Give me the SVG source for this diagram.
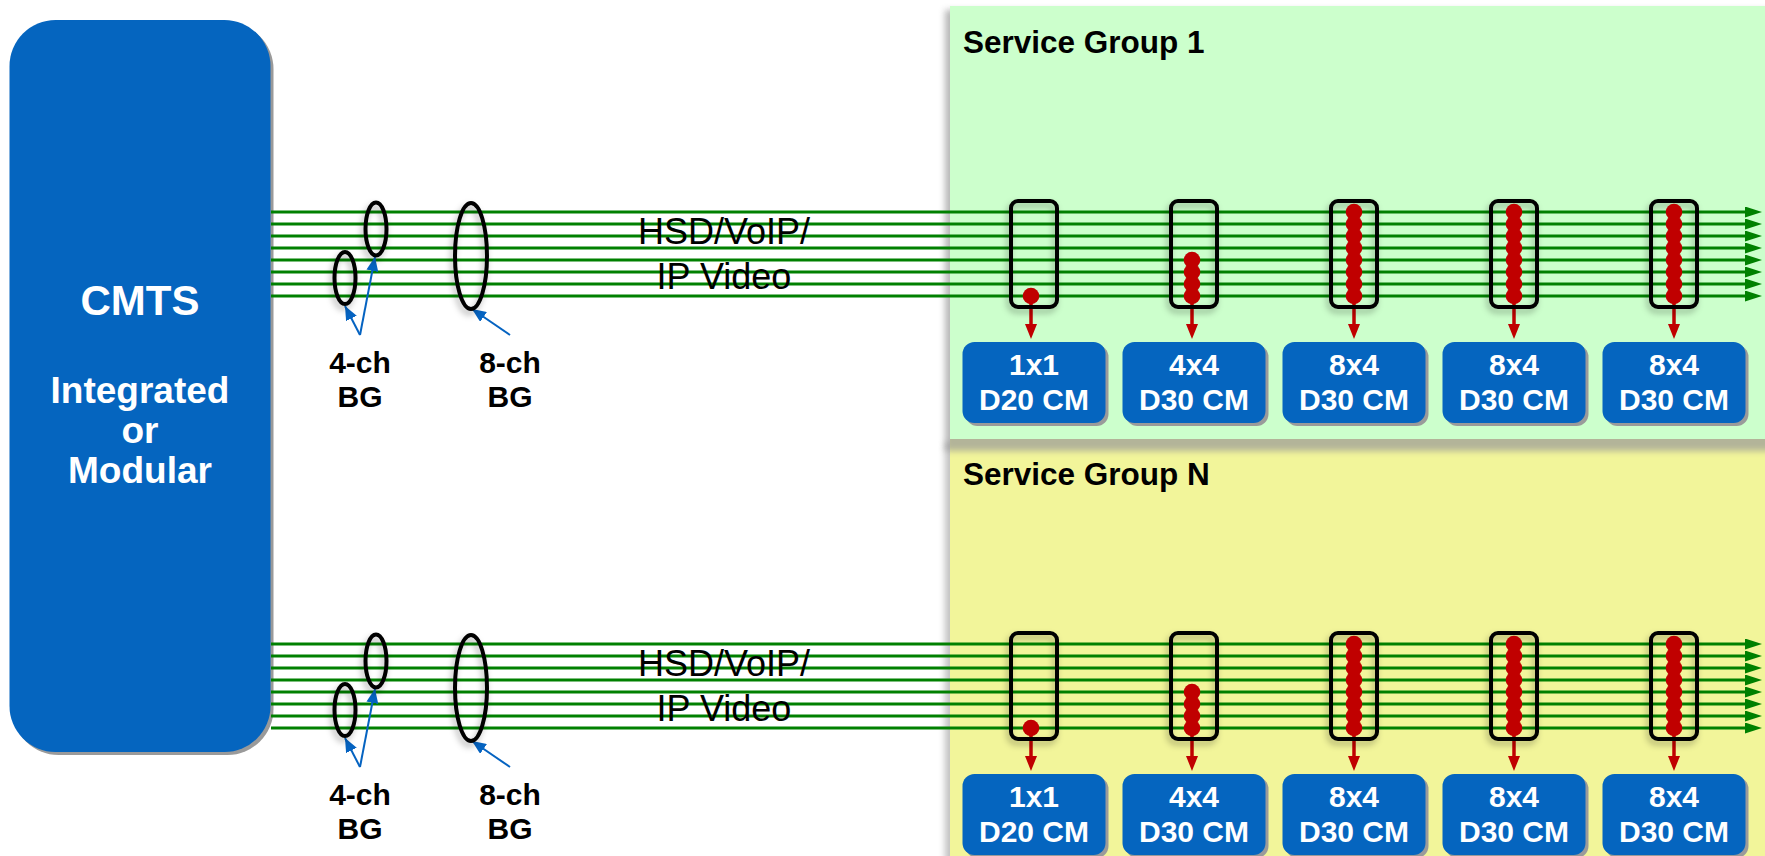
<svg xmlns="http://www.w3.org/2000/svg" width="1765" height="856" viewBox="0 0 1765 856">
<defs>
<style>
.bold{font-family:"Liberation Sans",Arial,sans-serif;font-weight:bold}
.reg{font-family:"Liberation Sans",Arial,sans-serif}
.wt{fill:#ffffff}
.bk{fill:#000000}
.ch{stroke:#008000;stroke-width:3;fill:none;marker-end:url(#ga)}
.ell{fill:none;stroke:#000;stroke-width:4;filter:url(#sh)}
.rx{fill:none;stroke:#000;stroke-width:4;filter:url(#sh)}
.dot{fill:#C00000}
.rarr{stroke:#C00000;stroke-width:3.5;marker-end:url(#ra)}
.barr{stroke:#0563C1;stroke-width:2;fill:none;marker-end:url(#ba)}
.cm{fill:#0565BF}
.cmsh{fill:#9a9a9a}
</style>
<marker id="ga" markerUnits="userSpaceOnUse" markerWidth="17" markerHeight="11" viewBox="0 0 17 11" refX="0" refY="5.5" orient="auto"><path d="M0,0 L17,5.5 L0,11 z" fill="#008000"/></marker>
<marker id="ra" markerUnits="userSpaceOnUse" markerWidth="15" markerHeight="12" viewBox="0 0 15 12" refX="0" refY="6" orient="auto"><path d="M0,0 L15,6 L0,12 z" fill="#C00000"/></marker>
<marker id="ba" markerUnits="userSpaceOnUse" markerWidth="14" markerHeight="12" viewBox="0 0 14 12" refX="14" refY="6" orient="auto"><path d="M0,0 L14,6 L0,12 z" fill="#0563C1"/></marker>
<filter id="sh" x="-50%" y="-50%" width="200%" height="200%"><feDropShadow dx="-2" dy="4" stdDeviation="3" flood-color="#000" flood-opacity="0.3"/></filter>
<filter id="blur" x="-10%" y="-10%" width="120%" height="120%"><feGaussianBlur stdDeviation="3"/></filter>
</defs>
<rect width="1765" height="856" fill="#ffffff"/>

<g id="service-group-n">
<rect x="945" y="442" width="830" height="420" fill="#999" opacity="0.6" filter="url(#blur)"/>
<rect x="950" y="438" width="820" height="420" fill="#F2F59A"/>
<text class="bold bk" x="963" y="485" font-size="31.5">Service Group N</text>
</g>
<g id="service-group-1">
<rect x="945" y="10" width="830" height="441" fill="#999" opacity="0.7" filter="url(#blur)"/>
<rect x="950" y="6" width="820" height="433" fill="#CCFFCC"/>
<text class="bold bk" x="963" y="53" font-size="31.5">Service Group 1</text>
</g>

<g id="cmts">
<rect x="12.5" y="23" width="261" height="732" rx="46" fill="#9a9a9a"/>
<rect x="9.5" y="20" width="261" height="732" rx="46" fill="#0565BF"/>
<text class="bold wt" x="140" y="315" font-size="42" text-anchor="middle">CMTS</text>
<text class="bold wt" x="140" y="403" font-size="37" text-anchor="middle">Integrated</text>
<text class="bold wt" x="140" y="443" font-size="37" text-anchor="middle">or</text>
<text class="bold wt" x="140" y="483" font-size="37" text-anchor="middle">Modular</text>
</g>

<g id="connectors">
<g id="channels-sg1">
<line class="ch" x1="271" y1="212" x2="1745" y2="212"/>
<line class="ch" x1="271" y1="224" x2="1745" y2="224"/>
<line class="ch" x1="271" y1="236" x2="1745" y2="236"/>
<line class="ch" x1="271" y1="248" x2="1745" y2="248"/>
<line class="ch" x1="271" y1="260" x2="1745" y2="260"/>
<line class="ch" x1="271" y1="272" x2="1745" y2="272"/>
<line class="ch" x1="271" y1="284" x2="1745" y2="284"/>
<line class="ch" x1="271" y1="296" x2="1745" y2="296"/>
</g>
<g id="channels-sgn">
<line class="ch" x1="271" y1="644" x2="1745" y2="644"/>
<line class="ch" x1="271" y1="656" x2="1745" y2="656"/>
<line class="ch" x1="271" y1="668" x2="1745" y2="668"/>
<line class="ch" x1="271" y1="680" x2="1745" y2="680"/>
<line class="ch" x1="271" y1="692" x2="1745" y2="692"/>
<line class="ch" x1="271" y1="704" x2="1745" y2="704"/>
<line class="ch" x1="271" y1="716" x2="1745" y2="716"/>
<line class="ch" x1="271" y1="728" x2="1745" y2="728"/>
</g>
<g id="bg-pointers">
<line class="barr" x1="360" y1="335" x2="345" y2="306"/>
<line class="barr" x1="360" y1="335" x2="375" y2="257"/>
<line class="barr" x1="510" y1="335" x2="472" y2="309"/>
<line class="barr" x1="360" y1="767" x2="345" y2="738"/>
<line class="barr" x1="360" y1="767" x2="375" y2="689"/>
<line class="barr" x1="510" y1="767" x2="472" y2="741"/>
</g>
<g id="cm-feeds">
<line class="rarr" x1="1031" y1="296" x2="1031" y2="324"/>
<line class="rarr" x1="1192" y1="296" x2="1192" y2="324"/>
<line class="rarr" x1="1354" y1="296" x2="1354" y2="324"/>
<line class="rarr" x1="1514" y1="296" x2="1514" y2="324"/>
<line class="rarr" x1="1674" y1="296" x2="1674" y2="324"/>
<line class="rarr" x1="1031" y1="728" x2="1031" y2="756"/>
<line class="rarr" x1="1192" y1="728" x2="1192" y2="756"/>
<line class="rarr" x1="1354" y1="728" x2="1354" y2="756"/>
<line class="rarr" x1="1514" y1="728" x2="1514" y2="756"/>
<line class="rarr" x1="1674" y1="728" x2="1674" y2="756"/>
</g>
</g>

<g id="bonding-groups-sg1">
<ellipse class="ell" cx="345" cy="278" rx="10.5" ry="26"/>
<ellipse class="ell" cx="376" cy="229" rx="10.5" ry="26.5"/>
<ellipse class="ell" cx="471" cy="256" rx="16" ry="53"/>
<text class="bold bk" x="360" y="373" font-size="30" text-anchor="middle">4-ch</text>
<text class="bold bk" x="360" y="407" font-size="30" text-anchor="middle">BG</text>
<text class="bold bk" x="510" y="373" font-size="30" text-anchor="middle">8-ch</text>
<text class="bold bk" x="510" y="407" font-size="30" text-anchor="middle">BG</text>
<text class="reg bk" x="724" y="244" font-size="36" text-anchor="middle">HSD/VoIP/</text>
<text class="reg bk" x="724" y="289" font-size="36" text-anchor="middle">IP Video</text>
</g>
<g id="bonding-groups-sgn">
<ellipse class="ell" cx="345" cy="710" rx="10.5" ry="26"/>
<ellipse class="ell" cx="376" cy="661" rx="10.5" ry="26.5"/>
<ellipse class="ell" cx="471" cy="688" rx="16" ry="53"/>
<text class="bold bk" x="360" y="805" font-size="30" text-anchor="middle">4-ch</text>
<text class="bold bk" x="360" y="839" font-size="30" text-anchor="middle">BG</text>
<text class="bold bk" x="510" y="805" font-size="30" text-anchor="middle">8-ch</text>
<text class="bold bk" x="510" y="839" font-size="30" text-anchor="middle">BG</text>
<text class="reg bk" x="724" y="676" font-size="36" text-anchor="middle">HSD/VoIP/</text>
<text class="reg bk" x="724" y="721" font-size="36" text-anchor="middle">IP Video</text>
</g>

<g id="sg1-tuners">
<g id="sg1-tuner-1"><rect class="rx" x="1011" y="201" width="46" height="106" rx="7"/><circle class="dot" cx="1031" cy="296" r="8.3"/></g>
<g id="sg1-tuner-2"><rect class="rx" x="1171" y="201" width="46" height="106" rx="7"/>
<circle class="dot" cx="1192" cy="260" r="8.3"/><circle class="dot" cx="1192" cy="272" r="8.3"/><circle class="dot" cx="1192" cy="284" r="8.3"/><circle class="dot" cx="1192" cy="296" r="8.3"/></g>
<g id="sg1-tuner-3"><rect class="rx" x="1331" y="201" width="46" height="106" rx="7"/>
<circle class="dot" cx="1354" cy="212" r="8.3"/><circle class="dot" cx="1354" cy="224" r="8.3"/><circle class="dot" cx="1354" cy="236" r="8.3"/><circle class="dot" cx="1354" cy="248" r="8.3"/><circle class="dot" cx="1354" cy="260" r="8.3"/><circle class="dot" cx="1354" cy="272" r="8.3"/><circle class="dot" cx="1354" cy="284" r="8.3"/><circle class="dot" cx="1354" cy="296" r="8.3"/></g>
<g id="sg1-tuner-4"><rect class="rx" x="1491" y="201" width="46" height="106" rx="7"/>
<circle class="dot" cx="1514" cy="212" r="8.3"/><circle class="dot" cx="1514" cy="224" r="8.3"/><circle class="dot" cx="1514" cy="236" r="8.3"/><circle class="dot" cx="1514" cy="248" r="8.3"/><circle class="dot" cx="1514" cy="260" r="8.3"/><circle class="dot" cx="1514" cy="272" r="8.3"/><circle class="dot" cx="1514" cy="284" r="8.3"/><circle class="dot" cx="1514" cy="296" r="8.3"/></g>
<g id="sg1-tuner-5"><rect class="rx" x="1651" y="201" width="46" height="106" rx="7"/>
<circle class="dot" cx="1674" cy="212" r="8.3"/><circle class="dot" cx="1674" cy="224" r="8.3"/><circle class="dot" cx="1674" cy="236" r="8.3"/><circle class="dot" cx="1674" cy="248" r="8.3"/><circle class="dot" cx="1674" cy="260" r="8.3"/><circle class="dot" cx="1674" cy="272" r="8.3"/><circle class="dot" cx="1674" cy="284" r="8.3"/><circle class="dot" cx="1674" cy="296" r="8.3"/></g>
</g>
<g id="sgn-tuners">
<g id="sgn-tuner-1"><rect class="rx" x="1011" y="633" width="46" height="106" rx="7"/><circle class="dot" cx="1031" cy="728" r="8.3"/></g>
<g id="sgn-tuner-2"><rect class="rx" x="1171" y="633" width="46" height="106" rx="7"/>
<circle class="dot" cx="1192" cy="692" r="8.3"/><circle class="dot" cx="1192" cy="704" r="8.3"/><circle class="dot" cx="1192" cy="716" r="8.3"/><circle class="dot" cx="1192" cy="728" r="8.3"/></g>
<g id="sgn-tuner-3"><rect class="rx" x="1331" y="633" width="46" height="106" rx="7"/>
<circle class="dot" cx="1354" cy="644" r="8.3"/><circle class="dot" cx="1354" cy="656" r="8.3"/><circle class="dot" cx="1354" cy="668" r="8.3"/><circle class="dot" cx="1354" cy="680" r="8.3"/><circle class="dot" cx="1354" cy="692" r="8.3"/><circle class="dot" cx="1354" cy="704" r="8.3"/><circle class="dot" cx="1354" cy="716" r="8.3"/><circle class="dot" cx="1354" cy="728" r="8.3"/></g>
<g id="sgn-tuner-4"><rect class="rx" x="1491" y="633" width="46" height="106" rx="7"/>
<circle class="dot" cx="1514" cy="644" r="8.3"/><circle class="dot" cx="1514" cy="656" r="8.3"/><circle class="dot" cx="1514" cy="668" r="8.3"/><circle class="dot" cx="1514" cy="680" r="8.3"/><circle class="dot" cx="1514" cy="692" r="8.3"/><circle class="dot" cx="1514" cy="704" r="8.3"/><circle class="dot" cx="1514" cy="716" r="8.3"/><circle class="dot" cx="1514" cy="728" r="8.3"/></g>
<g id="sgn-tuner-5"><rect class="rx" x="1651" y="633" width="46" height="106" rx="7"/>
<circle class="dot" cx="1674" cy="644" r="8.3"/><circle class="dot" cx="1674" cy="656" r="8.3"/><circle class="dot" cx="1674" cy="668" r="8.3"/><circle class="dot" cx="1674" cy="680" r="8.3"/><circle class="dot" cx="1674" cy="692" r="8.3"/><circle class="dot" cx="1674" cy="704" r="8.3"/><circle class="dot" cx="1674" cy="716" r="8.3"/><circle class="dot" cx="1674" cy="728" r="8.3"/></g>
</g>

<g id="sg1-cm-1"><rect class="cmsh" x="965.5" y="345" width="143" height="81" rx="12"/><rect class="cm" x="962.5" y="342" width="143" height="81" rx="12"/><text class="bold wt" x="1034" y="375" font-size="30" text-anchor="middle">1x1</text><text class="bold wt" x="1034" y="410" font-size="30" text-anchor="middle">D20 CM</text></g>
<g id="sg1-cm-2"><rect class="cmsh" x="1125.5" y="345" width="143" height="81" rx="12"/><rect class="cm" x="1122.5" y="342" width="143" height="81" rx="12"/><text class="bold wt" x="1194" y="375" font-size="30" text-anchor="middle">4x4</text><text class="bold wt" x="1194" y="410" font-size="30" text-anchor="middle">D30 CM</text></g>
<g id="sg1-cm-3"><rect class="cmsh" x="1285.5" y="345" width="143" height="81" rx="12"/><rect class="cm" x="1282.5" y="342" width="143" height="81" rx="12"/><text class="bold wt" x="1354" y="375" font-size="30" text-anchor="middle">8x4</text><text class="bold wt" x="1354" y="410" font-size="30" text-anchor="middle">D30 CM</text></g>
<g id="sg1-cm-4"><rect class="cmsh" x="1445.5" y="345" width="143" height="81" rx="12"/><rect class="cm" x="1442.5" y="342" width="143" height="81" rx="12"/><text class="bold wt" x="1514" y="375" font-size="30" text-anchor="middle">8x4</text><text class="bold wt" x="1514" y="410" font-size="30" text-anchor="middle">D30 CM</text></g>
<g id="sg1-cm-5"><rect class="cmsh" x="1605.5" y="345" width="143" height="81" rx="12"/><rect class="cm" x="1602.5" y="342" width="143" height="81" rx="12"/><text class="bold wt" x="1674" y="375" font-size="30" text-anchor="middle">8x4</text><text class="bold wt" x="1674" y="410" font-size="30" text-anchor="middle">D30 CM</text></g>

<g id="sgn-cm-1"><rect class="cmsh" x="965.5" y="777" width="143" height="81" rx="12"/><rect class="cm" x="962.5" y="774" width="143" height="81" rx="12"/><text class="bold wt" x="1034" y="807" font-size="30" text-anchor="middle">1x1</text><text class="bold wt" x="1034" y="842" font-size="30" text-anchor="middle">D20 CM</text></g>
<g id="sgn-cm-2"><rect class="cmsh" x="1125.5" y="777" width="143" height="81" rx="12"/><rect class="cm" x="1122.5" y="774" width="143" height="81" rx="12"/><text class="bold wt" x="1194" y="807" font-size="30" text-anchor="middle">4x4</text><text class="bold wt" x="1194" y="842" font-size="30" text-anchor="middle">D30 CM</text></g>
<g id="sgn-cm-3"><rect class="cmsh" x="1285.5" y="777" width="143" height="81" rx="12"/><rect class="cm" x="1282.5" y="774" width="143" height="81" rx="12"/><text class="bold wt" x="1354" y="807" font-size="30" text-anchor="middle">8x4</text><text class="bold wt" x="1354" y="842" font-size="30" text-anchor="middle">D30 CM</text></g>
<g id="sgn-cm-4"><rect class="cmsh" x="1445.5" y="777" width="143" height="81" rx="12"/><rect class="cm" x="1442.5" y="774" width="143" height="81" rx="12"/><text class="bold wt" x="1514" y="807" font-size="30" text-anchor="middle">8x4</text><text class="bold wt" x="1514" y="842" font-size="30" text-anchor="middle">D30 CM</text></g>
<g id="sgn-cm-5"><rect class="cmsh" x="1605.5" y="777" width="143" height="81" rx="12"/><rect class="cm" x="1602.5" y="774" width="143" height="81" rx="12"/><text class="bold wt" x="1674" y="807" font-size="30" text-anchor="middle">8x4</text><text class="bold wt" x="1674" y="842" font-size="30" text-anchor="middle">D30 CM</text></g>
</svg>
